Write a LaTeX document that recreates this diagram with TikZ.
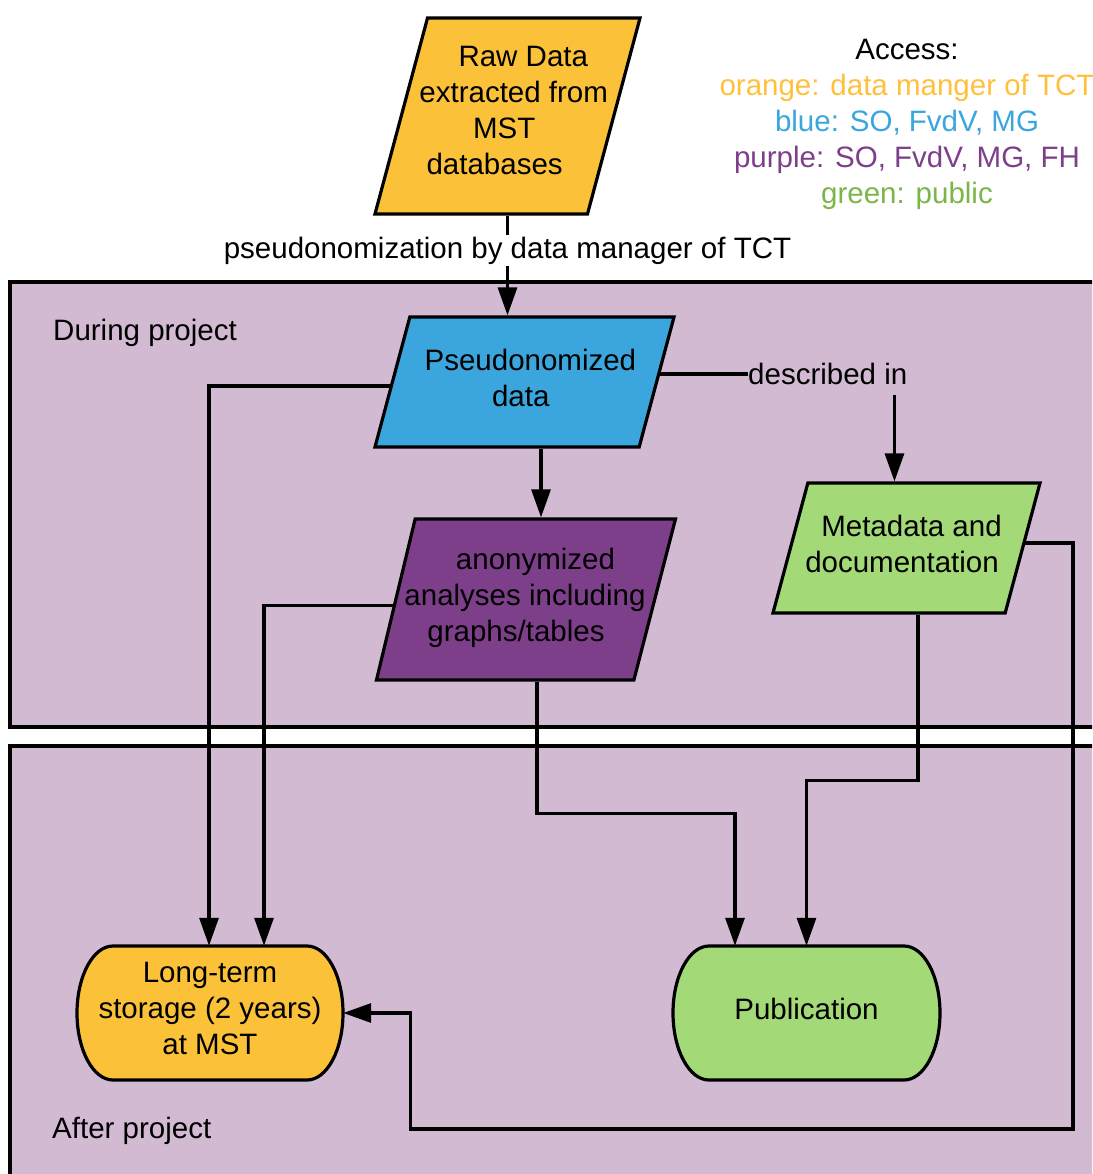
\documentclass[tikz,border=0pt]{standalone}
\usepackage{fontspec}
\setmainfont{Liberation Sans}
\usetikzlibrary{shapes.geometric,arrows.meta,calc}
\definecolor{lilac}{RGB}{210,187,210}
\definecolor{cOrange}{RGB}{251,194,57}
\definecolor{cBlue}{RGB}{58,166,221}
\definecolor{cPurple}{RGB}{126,63,138}
\definecolor{cGreen}{RGB}{163,217,119}
\definecolor{tGreen}{RGB}{122,182,72}
\definecolor{tOrange}{RGB}{255,193,59}
\newcommand\shiftln[2]{\makebox[0pt]{\hspace*{#1}#2}}
\begin{document}
\begin{tikzpicture}[x=1pt,y=-1pt,
  every node/.style={font=\fontsize{29.5}{36}\selectfont},
  para/.style={trapezium, trapezium left angle=75, trapezium right angle=105,
    trapezium stretches body, draw=black, line width=3.2pt, align=center, inner sep=0pt},
  term/.style={draw=none, align=center, inner sep=0pt, minimum width=266pt, minimum height=134pt},
  termline/.style={draw=black, line width=3.2pt},
  phase/.style={draw=black, line width=3.4pt, fill=lilac},
  conn/.style={line width=3.1pt},
  arr/.style={conn, -{Triangle[length=28pt,width=19pt]}},
  plain/.style={inner sep=0pt}]
\useasboundingbox (0,0) rectangle (1092,1174);
\clip (0,0) rectangle (1092,1174);
\fill[white] (0,0) rectangle (1092,1174);
% phase boxes
\draw[phase] (10,282) rectangle (1110,727);
\draw[phase] (10,746) rectangle (1110,1200);
\node[plain, anchor=west] (during) at (53,333) {During project};
\node[plain, anchor=west] (after) at (52,1131) {After project};
% legend
\node[plain, align=center] (legend) at (907,124) {Access:\\
  \textcolor{tOrange}{orange: data manger of TCT}\\
  \textcolor{cBlue}{blue: SO, FvdV, MG}\\
  \textcolor{cPurple}{purple: SO, FvdV, MG, FH}\\
  \textcolor{tGreen}{green: public}};
% parallelograms
\node[para, fill=cOrange, minimum width=265pt, text height=156.5pt, text depth=39.5pt] (raw) at (507.5,116)
  {\shiftln{31.6pt}{Raw Data}\\\shiftln{12.4pt}{extracted from}\\\shiftln{-6.4pt}{MST}\\\shiftln{-25.8pt}{databases}};
\node[para, fill=cBlue, minimum width=299pt, text height=89.6pt, text depth=40.4pt] (pseudo) at (524.5,382)
  {\shiftln{11.8pt}{Pseudonomized}\\\shiftln{-7.6pt}{data}};
\node[para, fill=cPurple, trapezium left angle=76.5, trapezium right angle=104.5,
  minimum width=299pt, text height=122.6pt, text depth=38.4pt] (anon) at (524.5,599.5)
  {\shiftln{22pt}{anonymized}\\\shiftln{1pt}{analyses including}\\\shiftln{-17pt}{graphs/tables}};
\node[para, fill=cGreen, minimum width=267pt, text height=89.6pt, text depth=40.4pt] (meta) at (906.5,548)
  {\shiftln{10pt}{Metadata and}\\\shiftln{-9pt}{documentation}};
% terminal shapes
\filldraw[termline, fill=cOrange] (113,946) -- (307,946)
  arc[start angle=90, end angle=-90, x radius=36pt, y radius=67pt] -- (113,1080)
  arc[start angle=270, end angle=90, x radius=36pt, y radius=67pt] -- cycle;
\node[term, text height=108.6pt, text depth=25.4pt] (storage) at (210,1013) {Long-term\\storage (2 years)\\at MST};
\filldraw[termline, fill=cGreen] (709,946) -- (904,946)
  arc[start angle=90, end angle=-90, x radius=36pt, y radius=67pt] -- (709,1080)
  arc[start angle=270, end angle=90, x radius=36pt, y radius=67pt] -- cycle;
\node[term, text height=73.6pt, text depth=60.4pt] (pub) at (806.5,1013) {Publication};
% described in label
\node[plain, anchor=west] (desc) at (748,374) {described in};
% connectors
\draw[arr] (raw.south -| raw.center) -- node[pos=0.35, fill=white, inner sep=2pt] (pslabel) {pseudonomization by data manager of TCT} (raw.center |- pseudo.north);
\draw[arr] ([yshift=-4pt]pseudo.west) -| ($(storage.north)+(-1,0)$);
\draw[arr] ([yshift=-6pt]anon.west) -| ($(storage.north)+(54,0)$);
\draw[arr] ($(pseudo.center |- pseudo.south)+(16.5,0)$) -- ($(anon.center |- anon.north)+(16.5,0)$);
\draw[conn] (pseudo.east |- desc.west) -- (desc.west);
\coordinate (dtop) at ($(desc.south east)+(-13,10)$);
\draw[arr] (dtop) -- (dtop |- meta.north);
\draw[arr] ($(anon.center |- anon.south)+(12.5,0)$) -- ++(0,132) -| ($(pub.north)+(-71.5,0)$);
\draw[arr] ($(meta.center |- meta.south)+(11.5,0)$) -- ++(0,166) -| (pub.north);
\coordinate (loopcorner) at (1073,1129);
\draw[arr] ([yshift=5pt]meta.east) -| (loopcorner) -| ($(storage.east)+(67,0)$) -- (storage.east);
\end{tikzpicture}
\end{document}
